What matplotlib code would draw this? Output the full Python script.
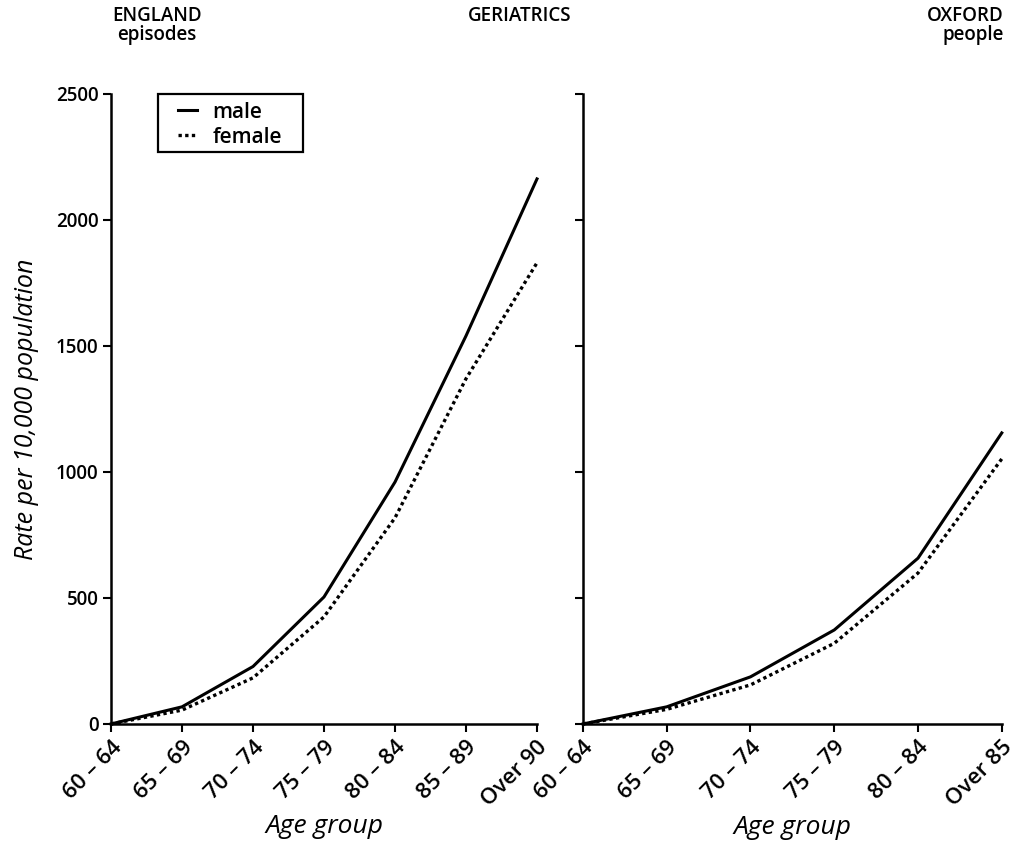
import matplotlib
matplotlib.use("Agg")
import matplotlib.pyplot as plt
from matplotlib.patches import Rectangle

plt.rcParams["font.family"] = ["Open Sans", "DejaVu Sans"]

# England: episodes per 10,000 population
england_groups = ["60 – 64", "65 – 69", "70 – 74", "75 – 79", "80 – 84", "85 – 89", "Over 90"]
england_male = [0, 68, 228, 504, 960, 1540, 2163]
england_female = [0, 55, 183, 425, 818, 1370, 1830]

# Oxford: people per 10,000 population
oxford_groups = ["60 – 64", "65 – 69", "70 – 74", "75 – 79", "80 – 84", "Over 85"]
oxford_male = [0, 68, 187, 373, 658, 1155]
oxford_female = [0, 58, 155, 320, 599, 1052]

y_ticks = [0, 500, 1000, 1500, 2000, 2500]

fig = plt.figure(figsize=(10.24, 8.43), dpi=100)
ax_l = fig.add_axes([0.1084, 0.1412, 0.416, 0.7473])
ax_r = fig.add_axes([0.5693, 0.1412, 0.409, 0.7473])


def style_axes(ax, groups, show_ylabels):
    """Bare left/bottom spines, rotated category labels."""
    for side in ("top", "right"):
        ax.spines[side].set_visible(False)
    for side in ("left", "bottom"):
        ax.spines[side].set_linewidth(1.8)
    ax.set_xlim(0, len(groups) - 1)
    ax.set_ylim(0, 2500)
    ax.set_xticks(range(len(groups)))
    ax.set_xticklabels(groups, rotation=45, ha="right", va="top",
                       rotation_mode="anchor", fontsize=16, fontweight="semibold")
    ax.set_yticks(y_ticks)
    if show_ylabels:
        ax.set_yticklabels([str(t) for t in y_ticks], fontsize=13.5,
                           fontweight="semibold")
    else:
        ax.set_yticklabels([])
    ax.tick_params(axis="both", direction="out", length=6, width=1.5, pad=3)
    ax.set_xlabel("Age group", fontsize=19, style="italic", labelpad=3)


ax_l.plot(range(len(england_groups)), england_male, color="black", lw=2.2,
          label="male", clip_on=False)
ax_l.plot(range(len(england_groups)), england_female, color="black", lw=2.4,
          linestyle=(0, (1, 1)), label="female", clip_on=False)
style_axes(ax_l, england_groups, True)
ax_l.set_ylabel("Rate per 10,000 population", fontsize=18, style="italic", labelpad=12)

ax_r.plot(range(len(oxford_groups)), oxford_male, color="black", lw=2.2, clip_on=False)
ax_r.plot(range(len(oxford_groups)), oxford_female, color="black", lw=2.4,
          linestyle=(0, (1, 1)), clip_on=False)
style_axes(ax_r, oxford_groups, False)

# legend entries without their own frame; the wider box is drawn separately
ax_l.legend(loc="upper left", bbox_to_anchor=(0.158, 0.988),
            prop={"size": 15, "weight": "semibold"},
            handlelength=0.9, handletextpad=0.75, borderpad=0.0,
            borderaxespad=0.0, labelspacing=0.2, frameon=False)
ax_l.add_patch(Rectangle((0.110, 0.908), 0.340, 0.092, transform=ax_l.transAxes,
                         fill=False, edgecolor="black", lw=1.6, clip_on=False))

title_kw = dict(va="center", fontsize=13.5, fontweight="semibold")
fig.text(0.153, 0.981, "ENGLAND", ha="center", **title_kw)
fig.text(0.153, 0.958, "episodes", ha="center", **title_kw)
fig.text(0.507, 0.981, "GERIATRICS", ha="center", **title_kw)
fig.text(0.980, 0.981, "OXFORD", ha="right", **title_kw)
fig.text(0.980, 0.958, "people", ha="right", **title_kw)

fig.savefig("out.png", dpi=100)
